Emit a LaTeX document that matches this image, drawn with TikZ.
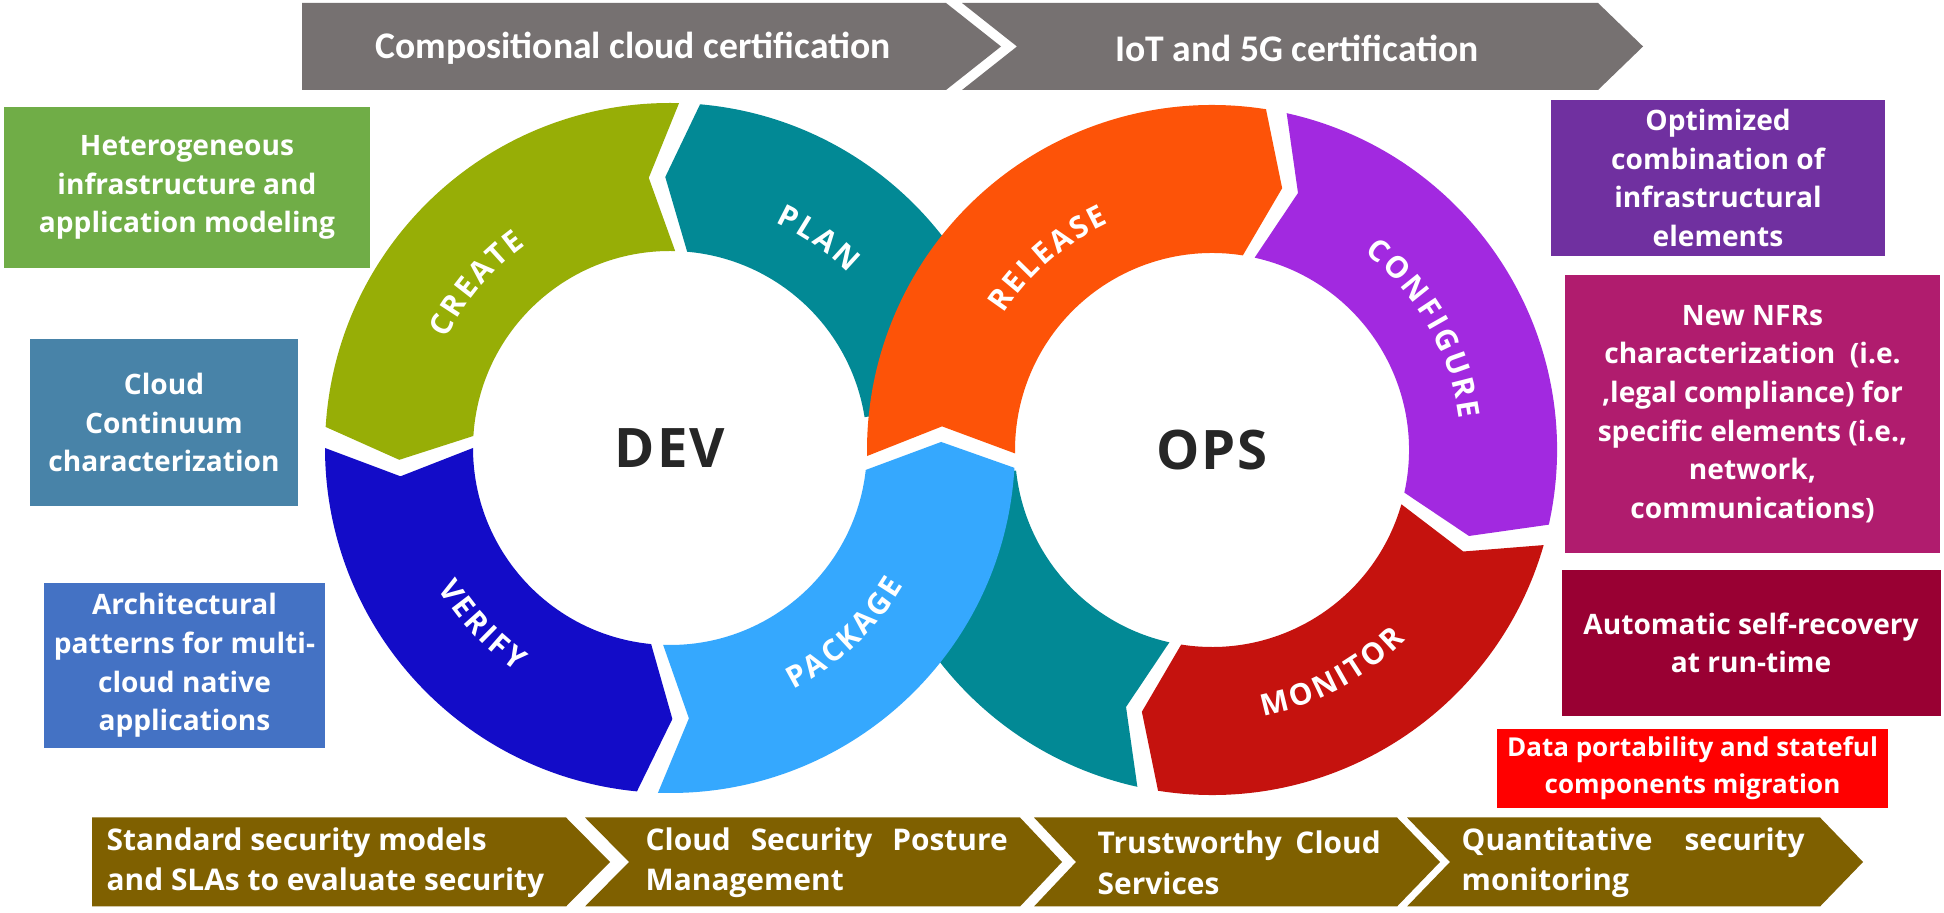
\documentclass[tikz,border=0pt]{standalone}
\usepackage{fontspec}
\setmainfont{Open Sans}
\newfontfamily\barfont{Carlito}
\newfontfamily\hubfont[LetterSpace=4]{Open Sans}
\usetikzlibrary{calc,decorations.text}
\definecolor{createcol}{RGB}{151,174,6}
\definecolor{plancol}{RGB}{2,137,149}
\definecolor{verifycol}{RGB}{19,12,200}
\definecolor{packagecol}{RGB}{53,168,254}
\definecolor{releasecol}{RGB}{253,83,8}
\definecolor{configcol}{RGB}{162,41,224}
\definecolor{monitorcol}{RGB}{197,18,14}
\definecolor{barcol}{RGB}{118,113,113}
\definecolor{stepcol}{RGB}{127,96,0}
\definecolor{greenbox}{RGB}{112,173,71}
\definecolor{steelbox}{RGB}{72,131,168}
\definecolor{bluebox}{RGB}{68,114,196}
\definecolor{purplebox}{RGB}{112,48,160}
\definecolor{magentabox}{RGB}{176,28,110}
\definecolor{winebox}{RGB}{153,0,51}
\definecolor{redbox}{RGB}{255,0,0}
\definecolor{hubgray}{RGB}{38,38,38}
\newcommand\rout{3.45}
\newcommand\rin{1.97}
\newcommand\rmid{2.71}
\newcommand\ringfmt{\bfseries\fontsize{8.5}{9}\selectfont\kern0.8pt}
\begin{document}
\begin{tikzpicture}[
	box/.style={text=white, font=\bfseries\fontsize{8}{11}\selectfont, align=center, inner sep=0pt},
	barlbl/.style={text=white, font=\barfont\bfseries\fontsize{10.7}{12}\selectfont},
	steplbl/.style={text=white, font=\bfseries\fontsize{8.5}{11.5}\selectfont, align=left, anchor=west, inner sep=0pt},
	hub/.style={text=hubgray, font=\hubfont\bfseries\fontsize{15.5}{18}\selectfont},
	ringlbl/.style={decorate, decoration={text along path, text align=center, text color=white}}
	]
		\fill[white] (0,0) rectangle (19.44,9.13);
		\coordinate (dev) at (6.70,4.65);
		\coordinate (ops) at (12.12,4.63);
		
		\fill[barcol] (3.02,9.10) -- (9.46,9.10) -- (10.01,8.665) -- (9.46,8.23) -- (3.02,8.23) -- cycle;
		\fill[barcol] (9.62,9.10) -- (15.98,9.10) -- (16.43,8.665) -- (15.98,8.23) -- (9.62,8.23) -- (10.17,8.665) -- cycle;
		\node[barlbl] (compcert) at (6.33,8.65) {Compositional cloud certification};
		\node[barlbl] (iotcert) at (12.97,8.65) {IoT and 5G certification};
		
		\fill[plancol] ($(dev)+(9:\rout)$) arc[start angle=9, end angle=85, radius=\rout] -- ($(dev)+(91:\rmid)$) -- ($(dev)+(85:\rin)$) arc[start angle=85, end angle=9, radius=\rin] -- cycle;
		\fill[plancol] ($(ops)+(257.5:\rout)$) arc[start angle=257.5, end angle=186, radius=\rout] -- ($(ops)+(186:\rin)$) arc[start angle=186, end angle=257.5, radius=\rin] -- ($(ops)+(251.5:\rmid)$) -- cycle;
		\fill[createcol] ($(dev)+(88.5:\rout)$) arc[start angle=88.5, end angle=176.5, radius=\rout] -- ($(dev)+(182.5:\rmid)$) -- ($(dev)+(176.5:\rin)$) arc[start angle=176.5, end angle=88.5, radius=\rin] -- ($(dev)+(94.5:\rmid)$) -- cycle;
		\fill[verifycol] ($(dev)+(180:\rout)$) arc[start angle=180, end angle=264.5, radius=\rout] -- ($(dev)+(270.5:\rmid)$) -- ($(dev)+(264.5:\rin)$) arc[start angle=264.5, end angle=180, radius=\rin] -- ($(dev)+(186:\rmid)$) -- cycle;
		\fill[packagecol] ($(dev)+(268:\rout)$) arc[start angle=268, end angle=356.7, radius=\rout] -- ($(ops)+(178.3:\rmid)$) -- ($(dev)+(353.6:\rin)$) arc[start angle=353.6, end angle=268, radius=\rin] -- ($(dev)+(274:\rmid)$) -- cycle;
		\fill[releasecol] ($(ops)+(181:\rout)$) arc[start angle=181, end angle=81, radius=\rout] -- ($(ops)+(75:\rmid)$) -- ($(ops)+(81:\rin)$) arc[start angle=81, end angle=181, radius=\rin] -- ($(ops)+(175:\rmid)$) -- cycle;
		\fill[configcol] ($(ops)+(77.5:\rout)$) arc[start angle=77.5, end angle=-12.5, radius=\rout] -- ($(ops)+(-18.5:\rmid)$) -- ($(ops)+(-12.5:\rin)$) arc[start angle=-12.5, end angle=77.5, radius=\rin] -- ($(ops)+(71.5:\rmid)$) -- cycle;
		\fill[monitorcol] ($(ops)+(-16:\rout)$) arc[start angle=-16, end angle=-99, radius=\rout] -- ($(ops)+(-105:\rmid)$) -- ($(ops)+(-99:\rin)$) arc[start angle=-99, end angle=-16, radius=\rin] -- ($(ops)+(-22:\rmid)$) -- cycle;
		
		\path[ringlbl, decoration={text={|\ringfmt|CREATE}}] ($(dev)+(185:2.49)$) arc[start angle=185, end angle=95, radius=2.49];
		\path[ringlbl, decoration={text={|\ringfmt|PLAN}}] ($(dev)+(100:2.49)$) arc[start angle=100, end angle=10, radius=2.49];
		\path[ringlbl, decoration={text={|\ringfmt|VERIFY}}] ($(dev)+(178:2.71)$) arc[start angle=178, end angle=268, radius=2.71];
		\path[ringlbl, decoration={text={|\ringfmt|PACKAGE}}] ($(dev)+(268:2.71)$) arc[start angle=268, end angle=358, radius=2.71];
		\path[ringlbl, decoration={text={|\ringfmt|RELEASE}}] ($(ops)+(176:2.49)$) arc[start angle=176, end angle=86, radius=2.49];
		\path[ringlbl, decoration={text={|\ringfmt|CONFIGURE}}] ($(ops)+(75:2.49)$) arc[start angle=75, end angle=-15, radius=2.49];
		\path[ringlbl, decoration={text={|\ringfmt|MONITOR}}] ($(ops)+(253:2.71)$) arc[start angle=253, end angle=343, radius=2.71];
		
		\node[hub] (devhub) at (dev) {DEV};
		\node[hub] (opshub) at (ops) {OPS};
		
		\node[box, fill=greenbox, minimum width=3.66cm, minimum height=1.61cm] (hetero) at (1.87,7.255) {Heterogeneous\\infrastructure and\\application modeling};
		\node[box, fill=steelbox, minimum width=2.68cm, minimum height=1.67cm] (continuum) at (1.64,4.905) {Cloud\\Continuum\\characterization};
		\node[box, fill=bluebox, minimum width=2.81cm, minimum height=1.65cm] (patterns) at (1.845,2.475) {Architectural\\patterns for multi-\\cloud native\\applications};
		
		\node[box, fill=purplebox, minimum width=3.34cm, minimum height=1.56cm] (optim) at (17.18,7.35) {Optimized\\combination of\\infrastructural\\elements};
		\node[box, fill=magentabox, minimum width=3.75cm, minimum height=2.78cm] (nfrs) at (17.525,4.99) {New NFRs\\characterization~ (i.e.\\,legal compliance) for\\specific elements (i.e.,\\network,\\communications)};
		\node[box, fill=winebox, minimum width=3.79cm, minimum height=1.46cm] (recovery) at (17.51,2.70) {Automatic self-recovery\\at run-time};
		\node[box, fill=redbox, minimum width=3.91cm, minimum height=0.79cm, font=\bfseries\fontsize{7.4}{10.6}\selectfont] (portab) at (16.925,1.445) {Data portability and stateful\\components migration};
		
		\fill[stepcol] (0.92,0.955) -- (5.66,0.955) -- (6.10,0.51) -- (5.66,0.065) -- (0.92,0.065) -- cycle;
		\fill[stepcol] (5.85,0.955) -- (10.20,0.955) -- (10.62,0.51) -- (10.20,0.065) -- (5.85,0.065) -- (6.29,0.51) -- cycle;
		\fill[stepcol] (10.34,0.955) -- (13.97,0.955) -- (14.40,0.51) -- (13.97,0.065) -- (10.34,0.065) -- (10.76,0.51) -- cycle;
		\fill[stepcol] (14.07,0.955) -- (18.20,0.955) -- (18.63,0.51) -- (18.20,0.065) -- (14.07,0.065) -- (14.50,0.51) -- cycle;
		\node[steplbl] (stdsec) at (1.06,0.50) {Standard security models\\and SLAs to evaluate security};
		\node[steplbl] (cspm) at (6.45,0.50) {\makebox[3.62cm][s]{Cloud Security Posture}\\Management};
		\node[steplbl] (trust) at (10.97,0.50) {\makebox[2.83cm][s]{Trustworthy Cloud}\\Services};
		\node[steplbl] (quant) at (14.61,0.50) {\makebox[3.43cm][s]{Quantitative security}\\monitoring};
\end{tikzpicture}
\end{document}
